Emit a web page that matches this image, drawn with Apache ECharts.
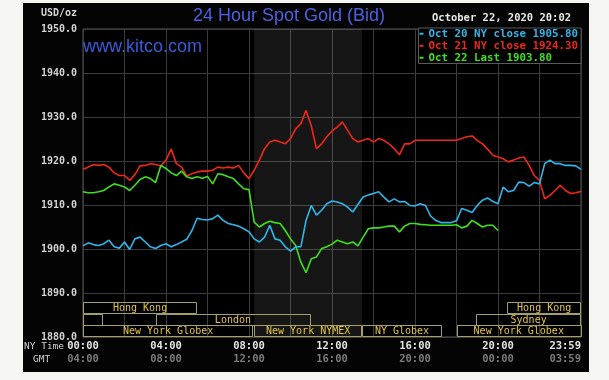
<!DOCTYPE html>
<html><head><meta charset="utf-8">
<script src="https://cdn.jsdelivr.net/npm/echarts@6/dist/echarts.min.js"></script>
<style>
html,body{margin:0;padding:0;background:#f5f5f2;width:609px;height:380px;overflow:hidden;}
#c{position:absolute;left:23px;top:3px;width:566px;height:369px;}
</style>
</head><body><div id="c"></div>
<script>
// hours of the NY trading day, sampled every 15 minutes
const hours = [0,0.25,0.5,0.75,1,1.25,1.5,1.75,2,2.25,2.5,2.75,3,3.25,3.5,3.75,4,4.25,4.5,4.75,5,5.25,5.5,5.75,
  6,6.25,6.5,6.75,7,7.25,7.5,7.75,8,8.25,8.5,8.75,9,9.25,9.5,9.75,10,10.25,10.5,10.75,11,11.25,11.5,11.75,
  12,12.25,12.5,12.75,13,13.25,13.5,13.75,14,14.25,14.5,14.75,15,15.25,15.5,15.75,16,16.25,16.5,16.75,17,17.25,17.5,17.75,
  18,18.25,18.5,18.75,19,19.25,19.5,19.75,20,20.25,20.5,20.75,21,21.25,21.5,21.75,22,22.25,22.5,22.75,23,23.25,23.5,23.75,24];

// Oct 20 (cyan)
const oct20 = [1900.7,1901.4,1901.0,1900.8,1901.2,1902.0,1900.5,1900.2,1901.6,1899.9,1902.3,1902.7,1901.6,1900.5,1900.1,1900.8,
  1901.2,1900.5,1901.0,1901.6,1902.2,1904.2,1907.0,1906.7,
  1906.6,1906.9,1907.7,1906.5,1905.8,1905.5,1905.2,1904.6,1903.9,1902.3,1901.6,1902.7,1905.4,1902.3,1902.0,1900.5,
  1899.5,1900.5,1900.5,1906.5,1909.9,1907.7,1908.8,1910.3,
  1910.9,1910.7,1910.3,1909.5,1908.4,1910.1,1911.8,1912.3,1912.6,1913.0,1911.8,1910.7,1911.4,1910.7,1910.8,1909.9,
  1909.8,1910.3,1909.9,1907.5,1906.5,1906.0,1906.0,1906.0,
  1906.4,1909.2,1908.8,1908.3,1909.9,1911.1,1911.6,1910.8,1910.3,1914.1,1913.0,1913.3,1915.2,1915.1,1914.3,1915.1,
  1914.8,1919.4,1920.2,1919.4,1919.4,1919.0,1919.0,1918.9,1918.1];

// Oct 21 (red)
const oct21 = [1918.1,1918.6,1919.2,1919.0,1919.2,1918.6,1917.3,1916.7,1916.7,1915.6,1916.9,1918.9,1919.0,1919.4,1919.2,1918.9,
  1920.2,1922.7,1919.4,1918.6,1916.6,1917.1,1917.5,1917.7,
  1917.7,1917.9,1918.6,1918.4,1918.6,1918.4,1919.0,1917.3,1916.0,1917.9,1920.2,1922.8,1924.3,1924.7,1924.3,1923.9,
  1925.1,1927.3,1928.5,1931.5,1928.0,1922.8,1923.9,1925.5,
  1926.8,1927.7,1928.9,1927.0,1925.1,1924.3,1924.7,1925.1,1924.3,1925.1,1924.7,1923.9,1922.8,1921.4,1923.9,1923.9,
  1924.7,1924.7,1924.7,1924.7,1924.7,1924.7,1924.7,1924.7,
  1924.7,1925.1,1925.5,1925.7,1924.7,1923.9,1922.7,1921.3,1920.9,1920.5,1919.8,1920.2,1920.7,1920.9,1919.0,1916.7,
  1915.6,1911.4,1912.2,1913.3,1914.5,1913.3,1912.6,1912.8,1913.1];

// Oct 22 (green, up to 20:00)
const oct22 = [1913.0,1912.8,1912.8,1913.0,1913.3,1914.1,1914.8,1914.5,1914.1,1913.3,1914.5,1915.8,1916.4,1916.0,1915.1,1919.0,
  1918.3,1917.3,1916.7,1917.7,1916.4,1916.0,1916.4,1916.1,
  1916.5,1914.8,1917.1,1916.9,1916.4,1916.0,1914.8,1913.7,1913.5,1906.1,1905.0,1905.8,1906.3,1906.0,1905.8,1904.2,
  1902.3,1900.8,1897.0,1894.6,1897.8,1898.2,1900.1,1900.5,
  1901.1,1902.0,1901.6,1901.2,1901.6,1900.7,1902.7,1904.6,1904.8,1904.8,1905.0,1905.2,1905.2,1903.9,1905.2,1905.8,
  1905.8,1905.6,1905.5,1905.4,1905.4,1905.4,1905.4,1905.4,
  1905.5,1904.8,1905.2,1906.5,1905.8,1905.0,1905.4,1905.4,1904.2];

const seriesNames = ['Oct 20 NY close 1905.80','Oct 21 NY close 1924.30','Oct 22 Last 1903.80'];

// axis tick labels
const yTicks = [1880,1890,1900,1910,1920,1930,1940,1950];
const nyLabels = ['00:00','04:00','08:00','12:00','16:00','20:00','23:59'];
const gmtLabels = ['04:00','08:00','12:00','16:00','20:00','00:00','03:59'];

// market sessions (hours, NY time); row 0 = bottom row
const sessionNames = ['Hong Kong','','London','New York Globex','New York NYMEX','NY Globex','New York Globex','Sydney','Hong Kong'];
const sessionStart = [0,0,3.5,0,8.25,13.45,18,18.95,20.45];
const sessionEnd   = [5.5,0.95,10.95,8.2,13.45,17.3,24,24,24];
const sessionRow   = [2,1,1,0,0,0,0,1,2];
const nymexHours = [8.25,13.45];

const MONO = '"DejaVu Sans Mono", "Liberation Mono", monospace';
const colors = {c20:'#2fb6ec', c21:'#f02716', c22:'#3fe01c'};

const chart = echarts.init(document.getElementById('c'), null, {renderer:'canvas'});

const sessData = sessionStart.map((s,i)=>[s, sessionEnd[i], sessionRow[i]]);

chart.setOption({
  animation:false,
  backgroundColor:'#040404',
  grid:{left:60, top:26, right:8, height:308, show:true, backgroundColor:'#000', borderColor:'#5a5a5a', borderWidth:1},
  legend:{
    orient:'vertical', right:8, top:25, itemGap:0.5, itemWidth:4, itemHeight:2, icon:'rect',
    padding:[0,3,0,1], backgroundColor:'#000', borderColor:'#5a5a5a', borderWidth:1,
    textStyle:{fontFamily:MONO, fontSize:10.8, lineHeight:11.5, fontWeight:'bold'},
    data:[
      {name:seriesNames[0], itemStyle:{color:colors.c20}, textStyle:{color:colors.c20}},
      {name:seriesNames[1], itemStyle:{color:colors.c21}, textStyle:{color:colors.c21}},
      {name:seriesNames[2], itemStyle:{color:colors.c22}, textStyle:{color:colors.c22}}
    ],
    selectedMode:false
  },
  xAxis:{
    type:'value', min:0, max:24, interval:2,
    axisLine:{show:false}, axisTick:{show:false},
    splitLine:{show:true, lineStyle:{color:'#3b3b3b', width:1}},
    axisLabel:{
      margin:3, alignMaxLabel:'right',
      formatter:(v)=>{ if (v % 4 !== 0) return ''; const i = v/4; return '{a|'+nyLabels[i]+'}\n{b|'+gmtLabels[i]+'}'; },
      rich:{
        a:{color:'#e4e4e4', fontFamily:MONO, fontSize:10.5, fontWeight:'bold', lineHeight:13},
        b:{color:'#7c7c7c', fontFamily:MONO, fontSize:10.5, fontWeight:'bold', lineHeight:13}
      }
    }
  },
  yAxis:{
    type:'value', min:yTicks[0], max:yTicks[yTicks.length-1], interval:10,
    axisLine:{show:false}, axisTick:{show:false},
    splitLine:{show:true, lineStyle:{color:'#3b3b3b', width:1}},
    axisLabel:{margin:6, color:'#d4d4d4', fontFamily:MONO, fontSize:10, fontWeight:'bold', formatter:(v)=>v.toFixed(1)}
  },
  graphic:[
    {type:'text', right:566-54, top:5, style:{text:'USD/oz', fill:'#d4d4d4', font:'bold 10px '+MONO}},
    {type:'text', left:170, top:4, style:{text:'24 Hour Spot Gold (Bid)', fill:'#4d62e3', font:'18px "Liberation Sans", Arial, sans-serif'}},
    {type:'text', left:409, top:10, style:{text:'October 22, 2020 20:02', fill:'#e8e8e8', font:'bold 10.5px '+MONO}},
    {type:'text', left:60, top:35, z:10, style:{text:'www.kitco.com', fill:'#3b5bd8', font:'18px "Liberation Sans", Arial, sans-serif'}},
    {type:'text', left:1, top:339, style:{text:'NY Time', fill:'#d4d4d4', font:'9.5px '+MONO}},
    {type:'text', left:10, top:352, style:{text:'GMT', fill:'#d4d4d4', font:'9.5px '+MONO}}
  ],
  series:[
    {
      type:'custom', name:'sessions', z:1, silent:true,
      data:sessData,
      renderItem:(params, api)=>{
        const s = api.value(0), e = api.value(1), row = api.value(2);
        const p0 = api.coord([s, yTicks[0]]), p1 = api.coord([e, yTicks[0]]);
        const rowH = 11.6;
        const y = p0[1] - (row+1)*rowH;
        const name = sessionNames[params.dataIndex];
        return {type:'group', children:[
          {type:'rect', shape:{x:Math.round(p0[0])+0.5, y:Math.round(y)+0.5, width:Math.round(p1[0]-p0[0])-1, height:Math.round(rowH)-1},
           style:{fill:'rgba(0,0,0,0)', stroke:'#a49f68', lineWidth:1}},
          {type:'text', style:{text:name, x:(p0[0]+p1[0])/2, y:y+rowH/2+0.5, align:'center', verticalAlign:'middle', fill:'#e3c449', font:'10px '+MONO}}
        ]};
      }
    },
    {
      type:'line', name:seriesNames[1], data:hours.map((h,i)=>[h, oct21[i]]), showSymbol:false, z:3,
      lineStyle:{color:colors.c21, width:1.6}, itemStyle:{color:colors.c21},
      markArea:{silent:true, itemStyle:{color:'rgba(255,255,255,0.085)'}, data:[[{xAxis:nymexHours[0]},{xAxis:nymexHours[1]}]]}
    },
    {
      type:'line', name:seriesNames[2], data:oct22.map((v,i)=>[hours[i], v]), showSymbol:false, z:3,
      lineStyle:{color:colors.c22, width:1.6}, itemStyle:{color:colors.c22}
    },
    {
      type:'line', name:seriesNames[0], data:hours.map((h,i)=>[h, oct20[i]]), showSymbol:false, z:3,
      lineStyle:{color:colors.c20, width:1.6}, itemStyle:{color:colors.c20}
    }
  ]
});
</script>
</body></html>
